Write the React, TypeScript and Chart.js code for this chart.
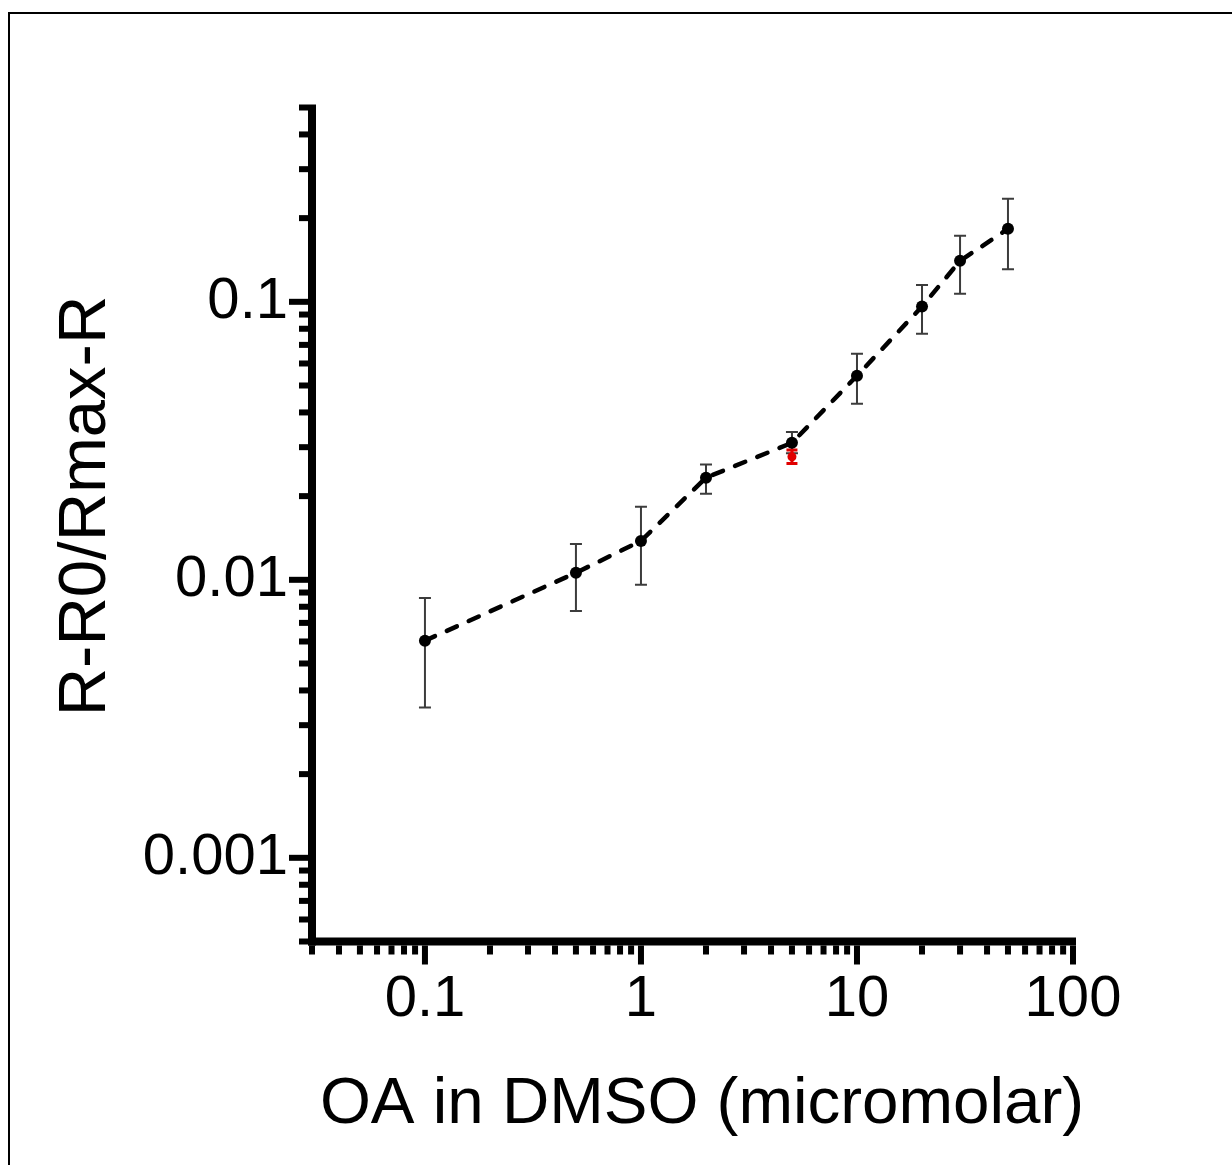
import React, { useEffect, useRef } from 'react';
import { Chart, registerables } from 'chart.js';

Chart.register(...registerables);

// ---- Data ----
const X_VALUES = [0.1, 0.5, 1, 2, 5, 10, 20, 30, 50];
const Y_VALUES = [0.00604, 0.0106, 0.0138, 0.0233, 0.0311, 0.0542, 0.0962, 0.1404, 0.183];
const Y_ERR_HIGH = [0.0086, 0.01346, 0.0183, 0.026, 0.034, 0.065, 0.115, 0.1727, 0.2346];
const Y_ERR_LOW = [0.00347, 0.00773, 0.0096, 0.0204, 0.0285, 0.043, 0.0767, 0.1069, 0.131];

const RED_X = [5];
const RED_Y = [0.0277];
const RED_ERR_HIGH = [0.0293];
const RED_ERR_LOW = [0.0262];

const X_MIN = 0.03;
const X_MAX = 100;
const Y_MIN = 0.0005;
const Y_MAX = 0.5;

const X_MAJOR_TICKS = [0.1, 1, 10, 100];
const X_TICK_LABELS = ['0.1', '1', '10', '100'];
const Y_MAJOR_TICKS = [0.001, 0.01, 0.1];
const Y_TICK_LABELS = ['0.001', '0.01', '0.1'];

const X_TITLE = 'OA in DMSO (micromolar)';
const Y_TITLE = 'R-R0/Rmax-R';

const FONT_FAMILY = '"Liberation Sans", Arial, Helvetica, sans-serif';

function logTickValues(min: number, max: number): number[] {
  const out: number[] = [];
  const e0 = Math.floor(Math.log10(min)) - 1;
  const e1 = Math.ceil(Math.log10(max)) + 1;
  for (let e = e0; e <= e1; e++) {
    for (let m = 1; m <= 9; m++) {
      const v = parseFloat((m * Math.pow(10, e)).toPrecision(6));
      if (v >= min * 0.9999 && v <= max * 1.0001) out.push(v);
    }
  }
  return out;
}

function isMajor(v: number, majors: number[]) {
  return majors.some((m) => Math.abs(m - v) / m < 1e-6);
}

function labelFor(v: number, majors: number[], labels: string[]) {
  const i = majors.findIndex((m) => Math.abs(m - v) / m < 1e-6);
  return i >= 0 ? labels[i] : '';
}

const X_ALL_TICKS = logTickValues(X_MIN, X_MAX);
const Y_ALL_TICKS = logTickValues(Y_MIN, Y_MAX);

const AXIS_W = 8;
const TICK_W = 6;
const MAJOR_LEN = 19;
const MINOR_LEN = 9;

const customPlugin = {
  id: 'customAxesAndErrors',
  beforeDatasetsDraw(chart: any) {
    const { ctx, scales } = chart;
    const xs = scales.x;
    const ys = scales.y;
    const drawBars = (xv: number[], lo: number[], hi: number[], color: string, width: number, cap: number) => {
      ctx.save();
      ctx.strokeStyle = color;
      ctx.lineWidth = width;
      ctx.lineCap = 'butt';
      for (let i = 0; i < xv.length; i++) {
        const px = xs.getPixelForValue(xv[i]);
        const pLo = ys.getPixelForValue(lo[i]);
        const pHi = ys.getPixelForValue(hi[i]);
        ctx.beginPath();
        ctx.moveTo(px, pLo);
        ctx.lineTo(px, pHi);
        ctx.moveTo(px - cap / 2, pLo);
        ctx.lineTo(px + cap / 2, pLo);
        ctx.moveTo(px - cap / 2, pHi);
        ctx.lineTo(px + cap / 2, pHi);
        ctx.stroke();
      }
      ctx.restore();
    };
    drawBars(X_VALUES, Y_ERR_LOW, Y_ERR_HIGH, '#3c3c3c', 2, 12);
    drawBars(RED_X, RED_ERR_LOW, RED_ERR_HIGH, '#e00000', 3, 11);
  },
  afterDraw(chart: any) {
    const { ctx, chartArea, scales } = chart;
    const xs = scales.x;
    const ys = scales.y;
    const { left, right, top, bottom } = chartArea;
    ctx.save();
    ctx.fillStyle = '#000';
    // Y axis line
    ctx.fillRect(left - AXIS_W / 2, top - TICK_W / 2, AXIS_W, bottom - top + TICK_W / 2 + AXIS_W / 2);
    // X axis line
    ctx.fillRect(left - AXIS_W / 2, bottom - AXIS_W / 2, right - left + AXIS_W / 2 + TICK_W / 2, AXIS_W);
    // Y ticks
    for (const v of Y_ALL_TICKS) {
      const py = ys.getPixelForValue(v);
      const len = isMajor(v, Y_MAJOR_TICKS) ? MAJOR_LEN : MINOR_LEN;
      ctx.fillRect(left - AXIS_W / 2 - len, py - TICK_W / 2, len, TICK_W);
    }
    // X ticks
    for (const v of X_ALL_TICKS) {
      const px = xs.getPixelForValue(v);
      const len = isMajor(v, X_MAJOR_TICKS) ? MAJOR_LEN : MINOR_LEN;
      ctx.fillRect(px - TICK_W / 2, bottom + AXIS_W / 2, TICK_W, len);
    }
    // Titles
    ctx.textBaseline = 'alphabetic';
    ctx.textAlign = 'center';
    ctx.font = `65.5px ${FONT_FAMILY}`;
    ctx.fillText(X_TITLE, 702, 1123);
    ctx.font = `67px ${FONT_FAMILY}`;
    ctx.translate(105, 506);
    ctx.rotate(-Math.PI / 2);
    ctx.fillText(Y_TITLE, 0, 0);
    ctx.restore();
  },
};

export default function App() {
  const canvasRef = useRef<HTMLCanvasElement | null>(null);

  useEffect(() => {
    const canvas = canvasRef.current;
    if (!canvas) return;
    const tickFont = { family: FONT_FAMILY, size: 58 };
    const chart = new Chart(canvas, {
      type: 'scatter',
      data: {
        datasets: [
          {
            label: 'OA in DMSO',
            data: X_VALUES.map((x, i) => ({ x, y: Y_VALUES[i] })),
            showLine: true,
            borderColor: '#000',
            borderWidth: 4.5,
            borderDash: [11, 13],
            borderCapStyle: 'round',
            pointRadius: 6,
            pointHoverRadius: 6,
            pointBackgroundColor: '#000',
            pointBorderWidth: 0,
            tension: 0,
          } as any,
          {
            label: 'red',
            data: RED_X.map((x, i) => ({ x, y: RED_Y[i] })),
            showLine: false,
            pointRadius: 4.5,
            pointHoverRadius: 4.5,
            pointBackgroundColor: '#e00000',
            pointBorderWidth: 0,
          } as any,
        ],
      },
      options: {
        responsive: false,
        animation: false,
        events: [],
        layout: { padding: { top: 107.5, left: 0, right: 159, bottom: 0 } },
        plugins: {
          legend: { display: false },
          tooltip: { enabled: false },
        },
        scales: {
          x: {
            type: 'logarithmic',
            position: 'bottom',
            min: X_MIN,
            max: X_MAX,
            afterBuildTicks: (s: any) => {
              s.ticks = X_ALL_TICKS.map((v) => ({ value: v }));
            },
            afterFit: (s: any) => {
              s.height = 223.5;
            },
            ticks: {
              autoSkip: false,
              maxRotation: 0,
              minRotation: 0,
              padding: 5,
              color: '#000',
              font: tickFont,
              callback: (v: any) => labelFor(Number(v), X_MAJOR_TICKS, X_TICK_LABELS),
            },
            grid: {
              display: true,
              drawOnChartArea: false,
              drawTicks: true,
              tickLength: 19,
              color: 'rgba(0,0,0,0)',
              tickColor: 'rgba(0,0,0,0)',
            },
            border: { display: false },
            title: { display: false },
          },
          y: {
            type: 'logarithmic',
            position: 'left',
            min: Y_MIN,
            max: Y_MAX,
            afterBuildTicks: (s: any) => {
              s.ticks = Y_ALL_TICKS.map((v) => ({ value: v }));
            },
            afterFit: (s: any) => {
              s.width = 312;
            },
            ticks: {
              autoSkip: false,
              padding: 5,
              color: '#000',
              font: tickFont,
              callback: (v: any) => labelFor(Number(v), Y_MAJOR_TICKS, Y_TICK_LABELS),
            },
            grid: {
              display: true,
              drawOnChartArea: false,
              drawTicks: true,
              tickLength: 19,
              color: 'rgba(0,0,0,0)',
              tickColor: 'rgba(0,0,0,0)',
            },
            border: { display: false },
            title: { display: false },
          },
        },
      } as any,
      plugins: [customPlugin],
    });
    return () => chart.destroy();
  }, []);

  return (
    <div>
      <div
        style={{
          position: 'absolute',
          left: 8,
          top: 12,
          width: 1224,
          height: 1153,
          boxSizing: 'border-box',
          borderTop: '2px solid #000',
          borderLeft: '2px solid #000',
          background: '#fff',
        }}
      />
      <canvas
        ref={canvasRef}
        width={1232}
        height={1165}
        style={{ position: 'absolute', left: 0, top: 0, width: 1232, height: 1165 }}
      />
    </div>
  );
}
